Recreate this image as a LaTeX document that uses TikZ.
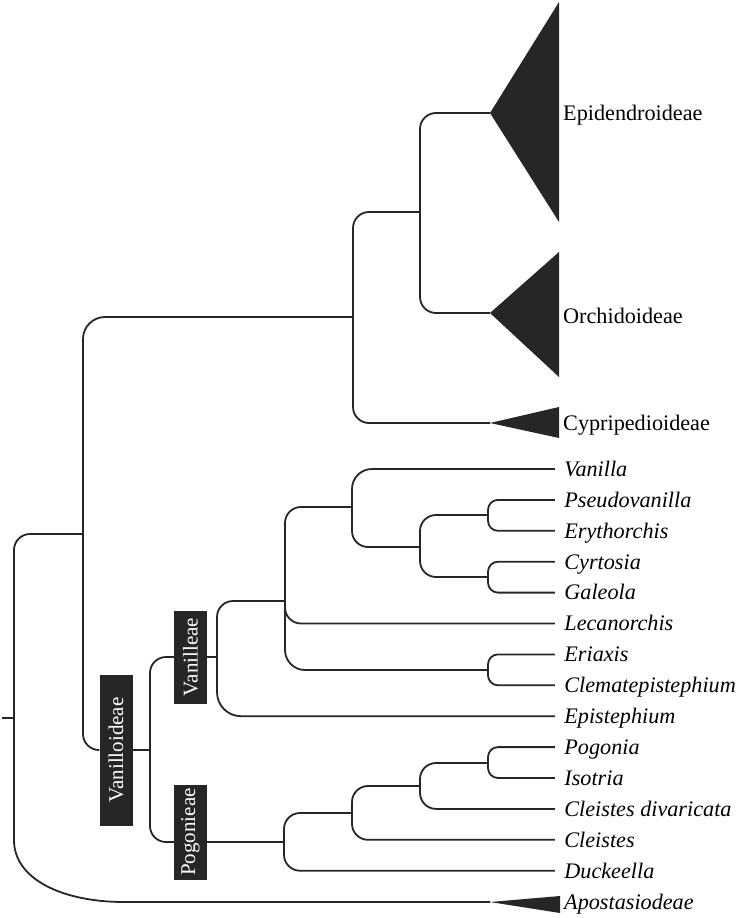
\documentclass[tikz,border=0pt]{standalone}
\usepackage{fontspec}
\setmainfont{Liberation Serif}
\usepackage{tikz}
\usetikzlibrary{positioning,calc}
\definecolor{treeink}{HTML}{262626}
\newcommand{\taxsize}{\fontsize{22.2}{26}\selectfont}
\newcommand{\tribesize}{\fontsize{21}{25}\selectfont}

\begin{document}
\begin{tikzpicture}[x=1pt,y=-1pt,node distance=30.9pt]
\tikzstyle{branch}=[draw=treeink,line width=1.8pt,rounded corners=16pt]
\tikzstyle{clade}=[fill=treeink]
\tikzstyle{tip}=[inner sep=0pt,minimum size=0pt]
\tikzstyle{taxon}=[inner sep=0pt,text height=14.6pt,text depth=0pt,font=\taxsize\itshape]
\tikzstyle{subfam}=[anchor=west,inner sep=0pt,text height=14.6pt,text depth=0pt,font=\taxsize]
\tikzstyle{tribe}=[fill=treeink,text=white,rotate=90,font=\tribesize,minimum height=33pt,inner sep=0pt]
\useasboundingbox (0,0) rectangle (739,918);

% tips of the genera
\node[tip] (tVan) at (555,469) {};
\node[tip] (tPse) [below of=tVan] {};
\node[tip] (tEry) [below of=tPse] {};
\node[tip] (tCyr) [below of=tEry] {};
\node[tip] (tGal) [below of=tCyr] {};
\node[tip] (tLec) [below of=tGal] {};
\node[tip] (tEri) [below of=tLec] {};
\node[tip] (tCle) [below of=tEri] {};
\node[tip] (tEpi) [below of=tCle] {};
\node[tip] (tPog) [below of=tEpi] {};
\node[tip] (tIso) [below of=tPog] {};
\node[tip] (tCdi) [below of=tIso] {};
\node[tip] (tCls) [below of=tCdi] {};
\node[tip] (tDuc) [below of=tCls] {};

\node[taxon,right=9pt of tVan] (Van) {Vanilla};
\node[taxon,right=9pt of tPse] (Pse) {Pseudovanilla};
\node[taxon,right=9pt of tEry] (Ery) {Erythorchis};
\node[taxon,right=9pt of tCyr] (Cyr) {Cyrtosia};
\node[taxon,right=9pt of tGal] (Gal) {Galeola};
\node[taxon,right=9pt of tLec] (Lec) {Lecanorchis};
\node[taxon,right=9pt of tEri] (Eri) {Eriaxis};
\node[taxon,right=9pt of tCle] (Cle) {Clematepistephium};
\node[taxon,right=9pt of tEpi] (Epi) {Epistephium};
\node[taxon,right=9pt of tPog] (Pgn) {Pogonia};
\node[taxon,right=9pt of tIso] (Iso) {Isotria};
\node[taxon,right=9pt of tCdi] (Cdi) {Cleistes divaricata};
\node[taxon,right=9pt of tCls] (Cls) {Cleistes};
\node[taxon,right=9pt of tDuc] (Duc) {Duckeella};

% collapsed subfamilies
\coordinate (epd) at (490,113);
\coordinate (orc) at (490,313);
\coordinate (cyp) at (490,423);
\coordinate (apo) at (490,902);
\fill[clade] (epd) -- ++(69,-111) -- ++(0,220) -- cycle;
\fill[clade] (orc) -- ++(69,-61) -- ++(0,125) -- cycle;
\fill[clade] (cyp) -- ++(69,-16) -- ++(0,31) -- cycle;
\fill[clade] (apo) -- ++(70,-6) -- ++(0,17) -- cycle;
\node[subfam] (Epd) at (563,113) {Epidendroideae};
\node[subfam] (Orc) at (563,316) {Orchidoideae};
\node[subfam] (Cyp) at (563,423) {Cypripedioideae};
\node[taxon,anchor=west] (Apo) at (564,902) {Apostasiodeae};

% tribe boxes
\node[tribe,minimum width=151pt] (Vnd) at (116,750) {Vanilloideae};
\node[tribe,minimum width=93pt] (Vnl) at (190.5,657) {Vanilleae};
\node[tribe,minimum width=95pt] (Pgi) at (190.5,832) {Pogonieae};

% inner nodes
\coordinate (stub) at (2,718);
\coordinate (root) at (14,718);
\coordinate (nA) at (83,534);
\coordinate (nB) at (353,317);
\coordinate (nC) at (420,212);
\coordinate (nV) at (150,750);
\coordinate (nVl) at (217,657);
\coordinate (nCore) at (285,601);
\coordinate (nUp) at (352,507);
\coordinate (nPE) at (420,547);
\coordinate (nPs) at (488,515);
\coordinate (nCy) at (488,577);
\coordinate (nEr) at (488,670);
\coordinate (nPg) at (284,842);
\coordinate (nCl) at (352,813);
\coordinate (nCd) at (420,786);
\coordinate (nPI) at (488,763);

\draw[branch] (stub) -- (root);
\draw[branch] (root) |- (nA);
\draw[branch,sharp corners] (root) -- ($(root |- apo)+(0,-62)$)
  .. controls +(0,40) and +(-60,0) .. ($(root |- apo)+(110,0)$) -- (apo);
\draw[branch,rounded corners=22pt] (nA) |- (nB);
\draw[branch] (nA) |- (Vnd.north);
\draw[branch] (nB) |- (nC);
\draw[branch] (nB) |- (cyp);
\draw[branch] (nC) |- (epd);
\draw[branch] (nC) |- (orc);

\draw[branch] (Vnd.south) -- (nV);
\draw[branch] (nV) |- (Vnl.north);
\draw[branch] (nV) |- (Pgi.north |- nPg);
\draw[branch] (Vnl.south) -- (nVl);
\draw[branch] (Pgi.south |- nPg) -- (nPg);

\draw[branch] (nVl) |- (nCore);
\draw[branch,rounded corners=24pt] (nVl) |- (tEpi);
\draw[branch] (nCore) |- (nUp);
\draw[branch] (nCore) |- (tLec);
\draw[branch,rounded corners=20pt] (nCore) |- (nEr);
\draw[branch,rounded corners=20pt] (nUp) |- (tVan);
\draw[branch] (nUp) |- (nPE);
\draw[branch] (nPE) |- (nPs);
\draw[branch] (nPE) |- (nCy);
\draw[branch,rounded corners=10pt] (nPs) |- (tPse);
\draw[branch,rounded corners=10pt] (nPs) |- (tEry);
\draw[branch,rounded corners=10pt] (nCy) |- (tCyr);
\draw[branch,rounded corners=10pt] (nCy) |- (tGal);
\draw[branch,rounded corners=10pt] (nEr) |- (tEri);
\draw[branch,rounded corners=10pt] (nEr) |- (tCle);

\draw[branch] (nPg) |- (nCl);
\draw[branch] (nPg) |- (tDuc);
\draw[branch] (nCl) |- (nCd);
\draw[branch] (nCl) |- (tCls);
\draw[branch] (nCd) |- (nPI);
\draw[branch] (nCd) |- (tCdi);
\draw[branch,rounded corners=10pt] (nPI) |- (tPog);
\draw[branch,rounded corners=10pt] (nPI) |- (tIso);
\end{tikzpicture}
\end{document}
